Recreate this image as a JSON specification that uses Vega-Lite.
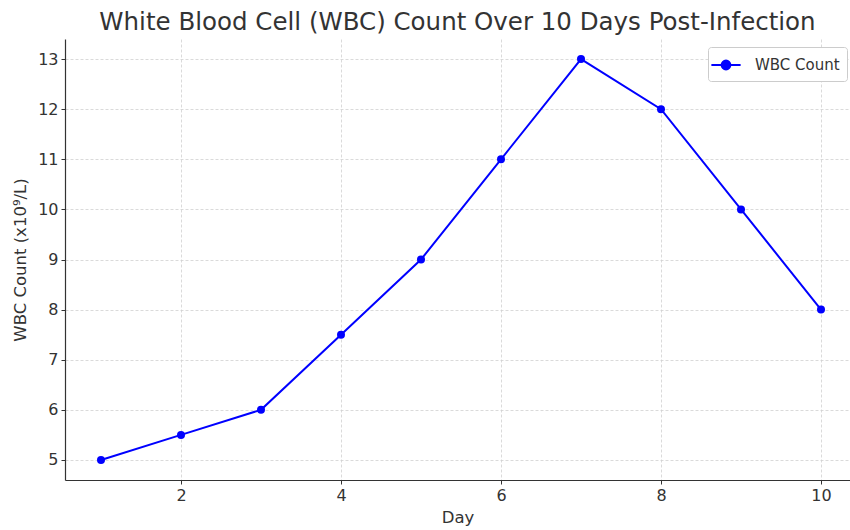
{
  "$schema": "https://vega.github.io/schema/vega-lite/v6.json",
  "width": 785,
  "height": 441,
  "autosize": {"type": "none"},
  "padding": {"left": 65, "top": 39, "right": 0, "bottom": 50},
  "background": "white",
  "title": {
    "text": "White Blood Cell (WBC) Count Over 10 Days Post-Infection",
    "font": "DejaVu Sans",
    "fontSize": 24.5,
    "fontWeight": "normal",
    "color": "#333333",
    "anchor": "middle",
    "offset": 4
  },
  "config": {
    "view": {"stroke": null},
    "axis": {
      "labelFont": "DejaVu Sans",
      "titleFont": "DejaVu Sans",
      "labelFontSize": 16,
      "titleFontSize": 16.5,
      "titleFontWeight": "normal",
      "labelColor": "#333333",
      "titleColor": "#333333",
      "domainColor": "#333333",
      "domainWidth": 1.2,
      "tickColor": "#333333",
      "gridColor": "#d0d0d0",
      "gridDash": [3, 2],
      "gridWidth": 0.8,
      "tickSize": 4
    }
  },
  "data": {
    "values": [
      {"day": 1, "wbc": 5, "series": "WBC Count"},
      {"day": 2, "wbc": 5.5, "series": "WBC Count"},
      {"day": 3, "wbc": 6, "series": "WBC Count"},
      {"day": 4, "wbc": 7.5, "series": "WBC Count"},
      {"day": 5, "wbc": 9, "series": "WBC Count"},
      {"day": 6, "wbc": 11, "series": "WBC Count"},
      {"day": 7, "wbc": 13, "series": "WBC Count"},
      {"day": 8, "wbc": 12, "series": "WBC Count"},
      {"day": 9, "wbc": 10, "series": "WBC Count"},
      {"day": 10, "wbc": 8, "series": "WBC Count"}
    ]
  },
  "encoding": {
    "x": {
      "field": "day",
      "type": "quantitative",
      "scale": {"domain": [0.55, 10.3625], "nice": false, "zero": false},
      "axis": {"values": [2, 4, 6, 8, 10], "title": "Day", "titlePadding": 6, "labelPadding": 3}
    },
    "y": {
      "field": "wbc",
      "type": "quantitative",
      "scale": {"domain": [4.6, 13.4], "nice": false, "zero": false},
      "axis": {"values": [5, 6, 7, 8, 9, 10, 11, 12, 13], "title": "WBC Count (x10⁹/L)", "titlePadding": 9, "labelPadding": 3}
    },
    "color": {
      "field": "series",
      "type": "nominal",
      "scale": {"range": ["#0000ff"]},
      "legend": {
        "title": null,
        "orient": "none",
        "legendX": 643,
        "legendY": 8,
        "labelFont": "DejaVu Sans",
        "labelFontSize": 15,
        "labelColor": "#333333",
        "symbolType": "M-1.5,0L1.5,0M-0.45,0A0.45,0.45,0,1,0,0.45,0A0.45,0.45,0,1,0,-0.45,0",
        "symbolSize": 380,
        "symbolStrokeWidth": 2,
        "symbolFillColor": "#0000ff",
        "symbolStrokeColor": "#0000ff",
        "strokeColor": "#cccccc",
        "fillColor": "white",
        "cornerRadius": 3,
        "padding": 7,
        "labelOffset": 18
      }
    }
  },
  "layer": [
    {"mark": {"type": "line", "strokeWidth": 2}},
    {"mark": {"type": "point", "filled": true, "size": 64, "opacity": 1}}
  ]
}
